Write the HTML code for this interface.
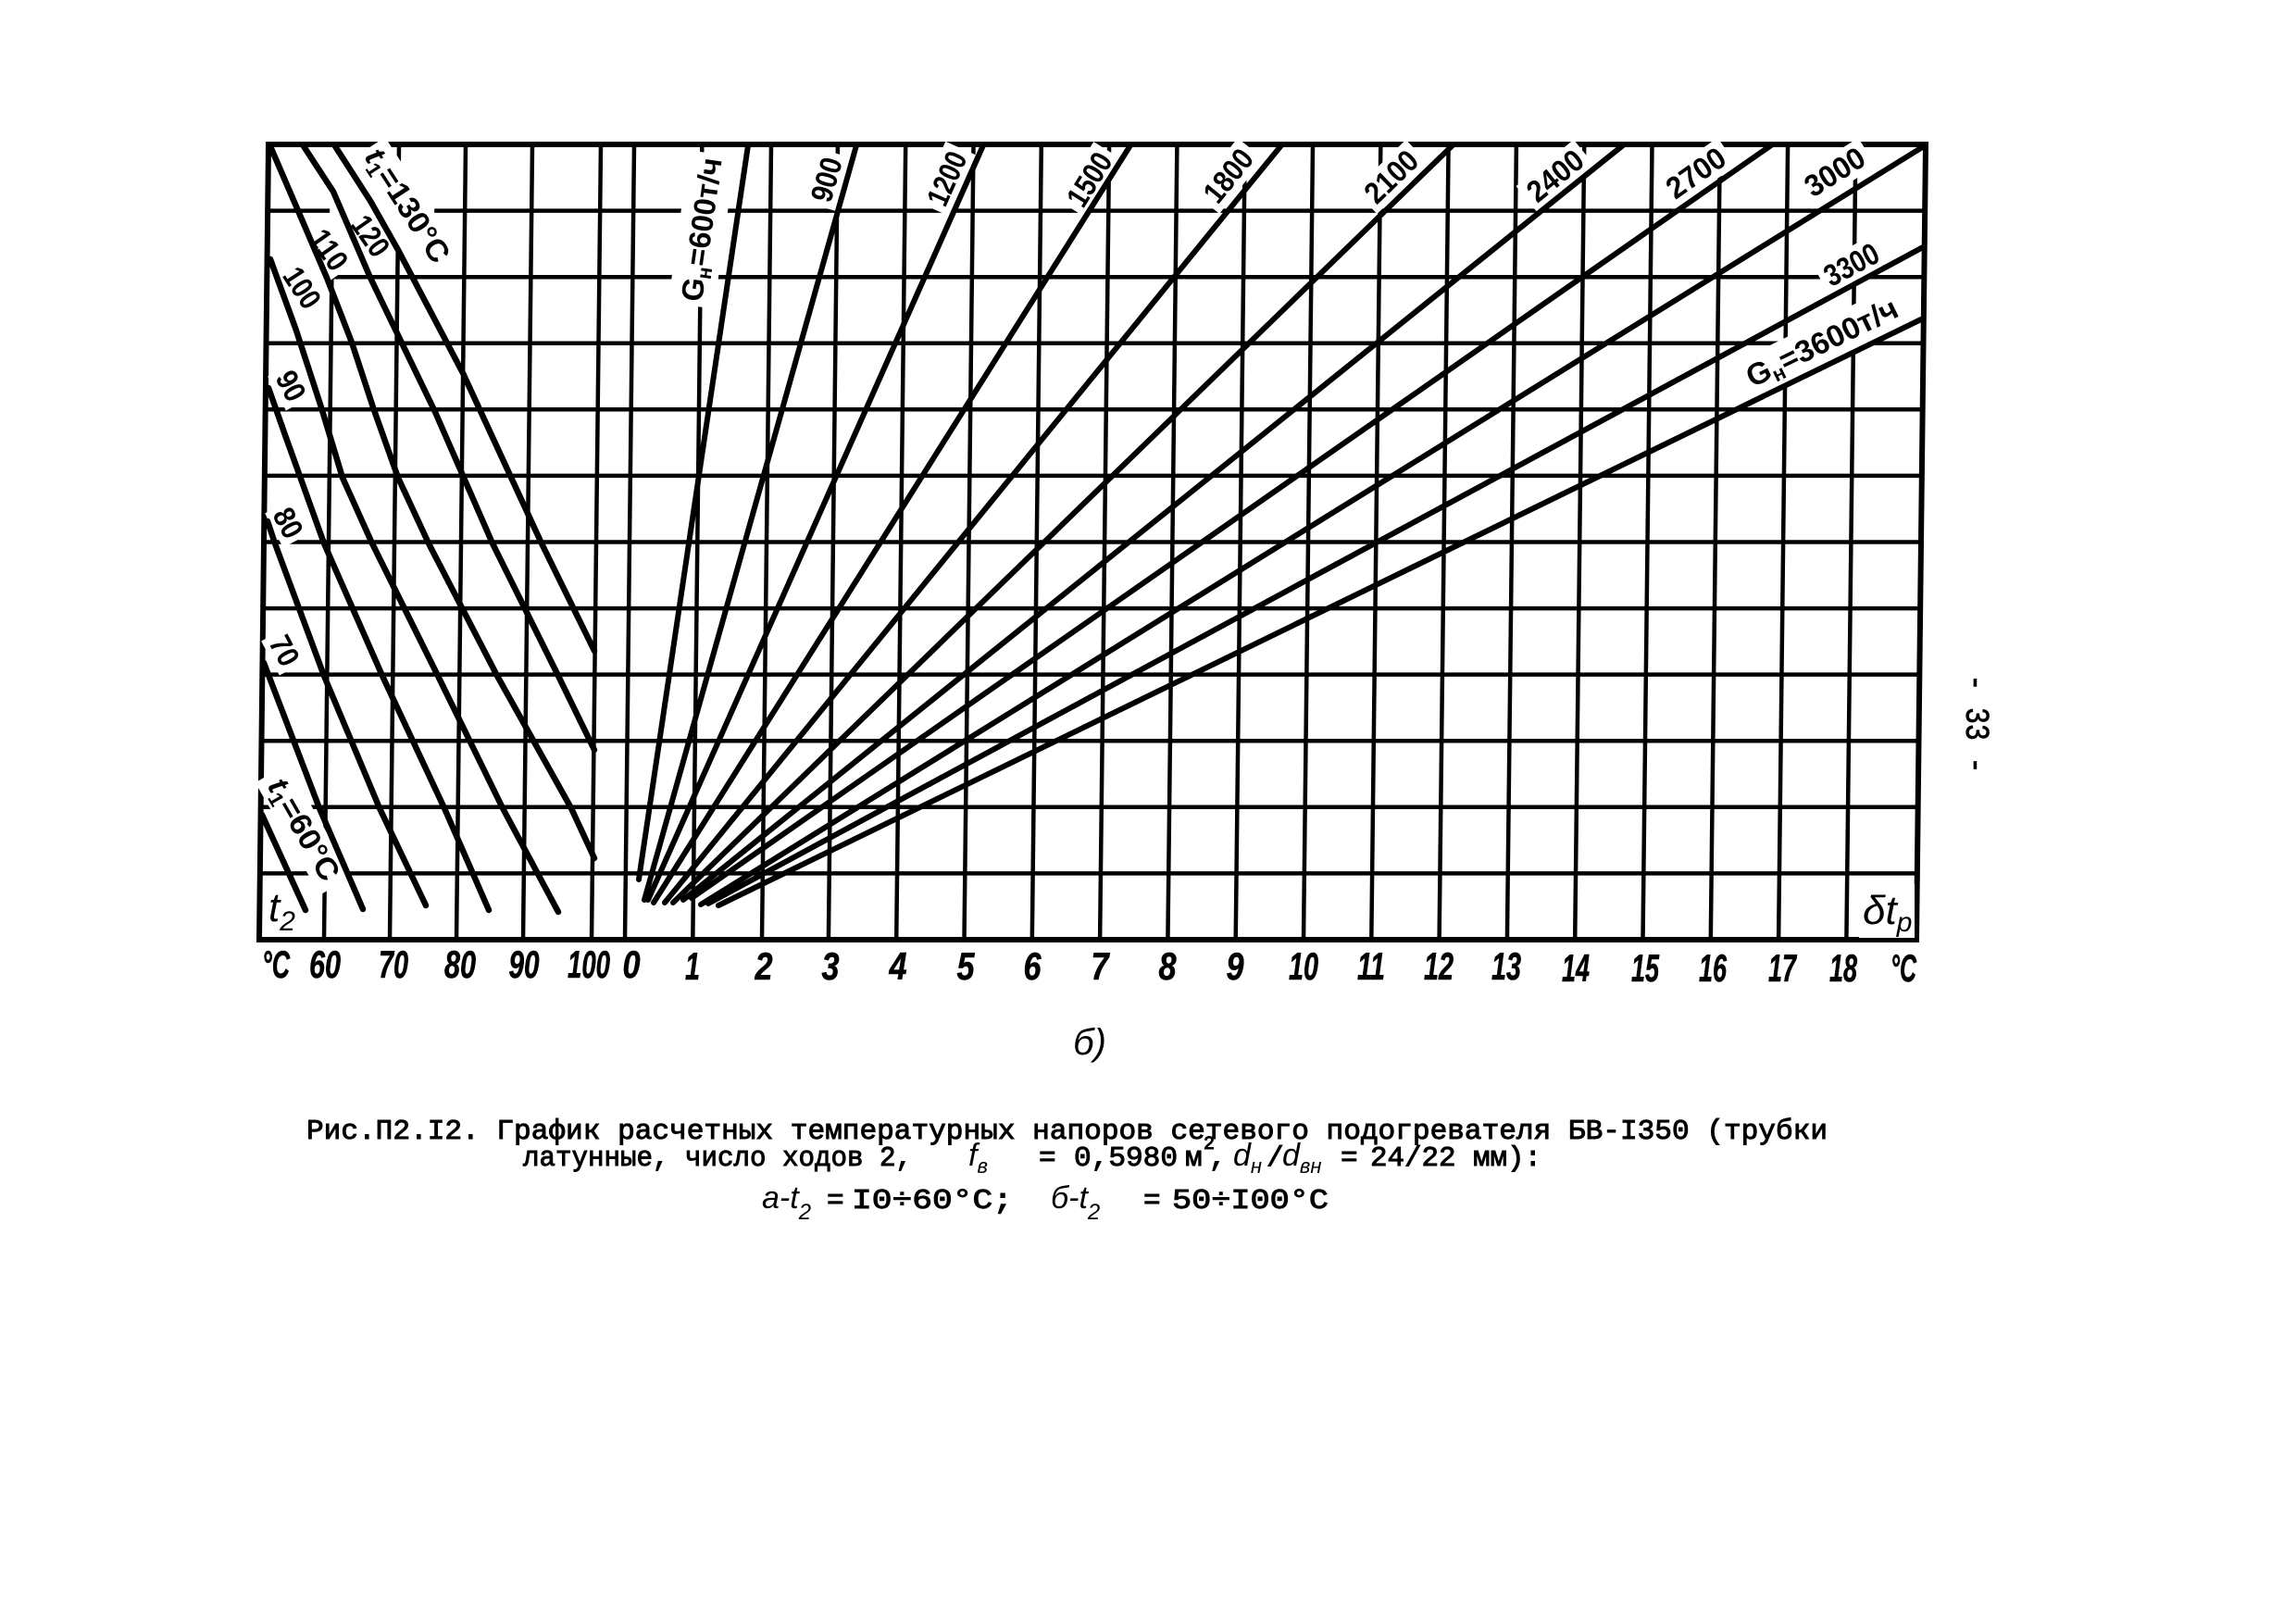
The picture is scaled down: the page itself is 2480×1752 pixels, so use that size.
<!DOCTYPE html>
<html><head><meta charset="utf-8">
<style>
html,body{margin:0;padding:0;background:#fff;}
svg{display:block;}
</style></head><body>
<svg width="2480" height="1752" viewBox="0 0 2480 1752" xmlns="http://www.w3.org/2000/svg">
<rect width="2480" height="1752" fill="#fff"/>

<!-- GRID (slightly skewed like the scan) -->
<g transform="matrix(1,0,-0.01164,1,1.816,0)" stroke="#000" fill="none" stroke-width="4.5">
  <path d="M290,227.6H357M470,227.6H2080 M357,299.2H2080 M290,370.7H2080 M290,442.3H2080 M290,513.9H2080 M290,585.5H2080 M290,657.1H2080 M290,728.6H2080 M290,800.2H2080 M290,871.8H2080 M290,943.4H2080"/>
  <path d="M360,299V1015 M431,156V188 M431,270V1015 M503,156V1015 M575,156V1015 M649,156V1015 M685,156V1015
  M758.3,156V1015 M833,156V1015 M904.9,156V1015 M978.2,156V1015 M1051.5,156V1015 M1124.8,156V1015
  M1198.1,156V1015 M1271.4,156V1015 M1344.7,156V1015 M1418,156V1015 M1491.3,156V1015 M1564.6,156V1015
  M1637.9,156V1015 M1711.2,156V1015 M1784.5,156V1015 M1857.8,156V1015 M1931.1,156V1015 M2004.4,156V1015"/>
  <path d="M290,156H2080V1015H290Z" stroke-width="6"/>
</g>

<!-- label backgrounds (interrupt grid) -->
<g fill="#fff">
  <rect x="-75" y="-20" width="150" height="40" transform="translate(440,222) rotate(57)"/>
  <rect x="-28" y="-17" width="56" height="34" transform="translate(400,255) rotate(55)"/>
  <rect x="-28" y="-17" width="56" height="34" transform="translate(355,270) rotate(55)"/>
  <rect x="-28" y="-17" width="56" height="34" transform="translate(326,311) rotate(57)"/>
  <rect x="-21" y="-17" width="42" height="34" transform="translate(314,417) rotate(62)"/>
  <rect x="-21" y="-17" width="42" height="34" transform="translate(311,565) rotate(62)"/>
  <rect x="-21" y="-17" width="42" height="34" transform="translate(307,703) rotate(62)"/>
  <rect x="-70" y="-20" width="140" height="40" transform="translate(328,896) rotate(60)"/>

  <rect x="-83" y="-25" width="166" height="50" transform="translate(758,248) rotate(-82)"/>
  <rect x="-30" y="-18" width="60" height="36" transform="translate(893,194) rotate(-74)"/>
  <rect x="-36" y="-18" width="72" height="36" transform="translate(1023,193) rotate(-66)"/>
  <rect x="-37" y="-18" width="74" height="36" transform="translate(1177,194) rotate(-58)"/>
  <rect x="-38" y="-18" width="76" height="36" transform="translate(1327,190) rotate(-51)"/>
  <rect x="-39" y="-18" width="78" height="36" transform="translate(1503,191) rotate(-44)"/>
  <rect x="-40" y="-18" width="80" height="36" transform="translate(1680,190) rotate(-39)"/>
  <rect x="-41" y="-18" width="82" height="36" transform="translate(1832,187) rotate(-35)"/>
  <rect x="-41" y="-18" width="82" height="36" transform="translate(1982,186) rotate(-32)"/>
  <rect x="-37" y="-18" width="74" height="36" transform="translate(2000,286) rotate(-28)"/>
  <rect x="-95" y="-22" width="190" height="44" transform="translate(1968,370) rotate(-26)"/>

  <rect x="2008" y="955" width="60" height="58"/>
  <rect x="286" y="960" width="36" height="52"/>
</g>

<!-- t1 curves (left section) -->
<g stroke="#000" stroke-width="6.5" fill="none" stroke-linecap="round" stroke-linejoin="round">
  <polyline points="362,158 400,217 430,270 500,403 585,587 642,703"/>
  <polyline points="328,158 360,207 400,300 470,445 532,587 603,730 642,810"/>
  <polyline points="292,158 323,230 353,300 380,370 403,440 430,516 463,587 537,730 617,873 642,927"/>
  <polyline points="292,280 320,357 347,440 370,516 402,587 473,730 543,873 603,985"/>
  <polyline points="290,419 308,470 350,587 413,730 480,873 528,983"/>
  <polyline points="289,563 297,587 350,730 410,873 460,978"/>
  <polyline points="285,716 345,873 392,982"/>
  <polyline points="283,880 330,983"/>
</g>

<!-- G_H fan lines (right section) -->
<g stroke="#000" stroke-width="6" fill="none" stroke-linecap="round">
  <line x1="690" y1="950" x2="808" y2="157"/>
  <line x1="696" y1="972" x2="925" y2="157"/>
  <line x1="700" y1="972" x2="1062" y2="157"/>
  <line x1="706" y1="975" x2="1221" y2="157"/>
  <line x1="718" y1="975" x2="1384" y2="157"/>
  <line x1="727" y1="975" x2="1569" y2="157"/>
  <line x1="738" y1="972" x2="1753" y2="157"/>
  <line x1="747" y1="970" x2="1913" y2="157"/>
  <line x1="757" y1="977" x2="2078" y2="158"/>
  <line x1="765" y1="976" x2="2077" y2="267"/>
  <line x1="776" y1="978" x2="2075" y2="345"/>
</g>

<!-- curve labels -->
<g font-family="'Liberation Sans', sans-serif" font-weight="bold" font-size="33" fill="#000" text-anchor="middle">
  <text transform="translate(440,222) rotate(57)" y="11" textLength="140" lengthAdjust="spacingAndGlyphs"><tspan font-style="italic">t</tspan><tspan font-size="22" dy="6">1</tspan><tspan dy="-6">=130°C</tspan></text>
  <text transform="translate(400,255) rotate(55)" y="11" textLength="46" lengthAdjust="spacingAndGlyphs">120</text>
  <text transform="translate(355,270) rotate(55)" y="11" textLength="46" lengthAdjust="spacingAndGlyphs">110</text>
  <text transform="translate(326,311) rotate(57)" y="11" textLength="46" lengthAdjust="spacingAndGlyphs">100</text>
  <text transform="translate(314,417) rotate(62)" y="11" textLength="32" lengthAdjust="spacingAndGlyphs">90</text>
  <text transform="translate(311,565) rotate(62)" y="11" textLength="32" lengthAdjust="spacingAndGlyphs">80</text>
  <text transform="translate(307,703) rotate(62)" y="11" textLength="32" lengthAdjust="spacingAndGlyphs">70</text>
  <text transform="translate(328,896) rotate(60)" y="11" textLength="122" lengthAdjust="spacingAndGlyphs"><tspan font-style="italic">t</tspan><tspan font-size="22" dy="6">1</tspan><tspan dy="-6">=60°C</tspan></text>

  <text transform="translate(758,248) rotate(-82)" y="11" textLength="156" lengthAdjust="spacingAndGlyphs">G<tspan font-size="22" dy="6">н</tspan><tspan dy="-6">=600т/ч</tspan></text>
  <text transform="translate(893,194) rotate(-74)" y="11" textLength="48" lengthAdjust="spacingAndGlyphs">900</text>
  <text transform="translate(1023,193) rotate(-66)" y="11" textLength="60" lengthAdjust="spacingAndGlyphs">1200</text>
  <text transform="translate(1177,194) rotate(-58)" y="11" textLength="62" lengthAdjust="spacingAndGlyphs">1500</text>
  <text transform="translate(1327,190) rotate(-51)" y="11" textLength="64" lengthAdjust="spacingAndGlyphs">1800</text>
  <text transform="translate(1503,191) rotate(-44)" y="11" textLength="66" lengthAdjust="spacingAndGlyphs">2100</text>
  <text transform="translate(1680,190) rotate(-39)" y="11" textLength="68" lengthAdjust="spacingAndGlyphs">2400</text>
  <text transform="translate(1832,187) rotate(-35)" y="11" textLength="70" lengthAdjust="spacingAndGlyphs">2700</text>
  <text transform="translate(1982,186) rotate(-32)" y="11" textLength="70" lengthAdjust="spacingAndGlyphs">3000</text>
  <text transform="translate(2000,286) rotate(-28)" y="11" textLength="62" lengthAdjust="spacingAndGlyphs">3300</text>
  <text transform="translate(1968,370) rotate(-26)" y="11" textLength="178" lengthAdjust="spacingAndGlyphs">G<tspan font-size="22" dy="6">н</tspan><tspan dy="-6">=3600т/ч</tspan></text>
</g>

<!-- corner labels -->
<g font-family="'Liberation Sans', sans-serif" font-style="italic" fill="#000">
  <text x="2012" y="998" font-size="44">δt<tspan font-size="30" dy="8">p</tspan></text>
  <text x="290" y="995" font-size="44">t<tspan font-size="30" dy="10">2</tspan></text>
</g>

<!-- axis tick labels -->
<g font-family="'Liberation Sans', sans-serif" font-weight="bold" font-style="italic" font-size="42" fill="#000" text-anchor="middle" stroke="#000" stroke-width="0.6">
  <text x="298" y="1056" textLength="30" lengthAdjust="spacingAndGlyphs">°C</text>
  <text x="351" y="1056" textLength="34" lengthAdjust="spacingAndGlyphs">60</text>
  <text x="425" y="1056" textLength="32" lengthAdjust="spacingAndGlyphs">70</text>
  <text x="497" y="1056" textLength="34" lengthAdjust="spacingAndGlyphs">80</text>
  <text x="566" y="1056" textLength="33" lengthAdjust="spacingAndGlyphs">90</text>
  <text x="636" y="1056" textLength="46" lengthAdjust="spacingAndGlyphs">100</text>
  <text x="682" y="1056" textLength="19" lengthAdjust="spacingAndGlyphs">0</text>
  <text x="748" y="1058" textLength="16" lengthAdjust="spacingAndGlyphs">1</text>
  <text x="825" y="1058" textLength="19" lengthAdjust="spacingAndGlyphs">2</text>
  <text x="897" y="1058" textLength="19" lengthAdjust="spacingAndGlyphs">3</text>
  <text x="970" y="1058" textLength="19" lengthAdjust="spacingAndGlyphs">4</text>
  <text x="1043" y="1058" textLength="19" lengthAdjust="spacingAndGlyphs">5</text>
  <text x="1115" y="1058" textLength="19" lengthAdjust="spacingAndGlyphs">6</text>
  <text x="1188" y="1058" textLength="19" lengthAdjust="spacingAndGlyphs">7</text>
  <text x="1261" y="1058" textLength="19" lengthAdjust="spacingAndGlyphs">8</text>
  <text x="1334" y="1058" textLength="19" lengthAdjust="spacingAndGlyphs">9</text>
  <text x="1408" y="1058" textLength="32" lengthAdjust="spacingAndGlyphs">10</text>
  <text x="1481" y="1058" textLength="30" lengthAdjust="spacingAndGlyphs">11</text>
  <text x="1554" y="1058" textLength="32" lengthAdjust="spacingAndGlyphs">12</text>
  <text x="1627" y="1058" textLength="32" lengthAdjust="spacingAndGlyphs">13</text>
  <text x="1702" y="1060" textLength="30" lengthAdjust="spacingAndGlyphs">14</text>
  <text x="1777" y="1060" textLength="30" lengthAdjust="spacingAndGlyphs">15</text>
  <text x="1850" y="1060" textLength="30" lengthAdjust="spacingAndGlyphs">16</text>
  <text x="1925" y="1060" textLength="30" lengthAdjust="spacingAndGlyphs">17</text>
  <text x="1991" y="1060" textLength="30" lengthAdjust="spacingAndGlyphs">18</text>
  <text x="2056" y="1060" textLength="28" lengthAdjust="spacingAndGlyphs">°C</text>
</g>

<!-- б) -->
<text x="1177" y="1139" font-family="'Liberation Sans', sans-serif" font-style="italic" font-size="40" text-anchor="middle" fill="#000">б)</text>

<!-- page number -->
<text transform="translate(2136,782) rotate(90)" y="12" font-family="'Liberation Mono', monospace" font-size="36" text-anchor="middle" textLength="107" lengthAdjust="spacingAndGlyphs" fill="#000" stroke="#000" stroke-width="0.8">- 33 -</text>

<!-- caption -->
<g font-family="'Liberation Mono', 'DejaVu Sans Mono', monospace" font-size="31" fill="#000" stroke="#000" stroke-width="1">
  <text x="331" y="1230" textLength="1643" lengthAdjust="spacingAndGlyphs">Рис.П2.I2. График расчетных температурных напоров сетевого подогревателя БВ-I350 (трубки</text>
  <text x="565" y="1259" textLength="420" lengthAdjust="spacingAndGlyphs">латунные, число ходов 2,</text>
  <text x="1122" y="1259">=</text>
  <text x="1160" y="1259" textLength="112" lengthAdjust="spacingAndGlyphs">0,5980</text>
  <text x="1280" y="1259">м</text>
  <text x="1300" y="1241" font-size="20">2</text>
  <text x="1306" y="1259">,</text>
  <text x="1368" y="1259">/</text>
  <text x="1448" y="1259">=</text>
  <text x="1480" y="1259" textLength="185" lengthAdjust="spacingAndGlyphs">24/22 мм):</text>
  <text x="893" y="1305">=</text>
  <text x="920" y="1305" textLength="174" lengthAdjust="spacingAndGlyphs">I0÷60°C;</text>
  <text x="1235" y="1305">=</text>
  <text x="1266" y="1305" textLength="169" lengthAdjust="spacingAndGlyphs">50÷I00°C</text>
</g>
<g font-family="'Liberation Sans', sans-serif" font-style="italic" font-size="34" fill="#000">
  <text x="1046" y="1259">f<tspan font-size="22" dy="8">в</tspan></text>
  <text x="1332" y="1259">d<tspan font-size="22" dy="8">н</tspan></text>
  <text x="1385" y="1259">d<tspan font-size="22" dy="8">вн</tspan></text>
  <text x="823" y="1305">a-t<tspan font-size="24" dy="12">2</tspan></text>
  <text x="1135" y="1305">б-t<tspan font-size="24" dy="12">2</tspan></text>
</g>
</svg>
</body></html>
